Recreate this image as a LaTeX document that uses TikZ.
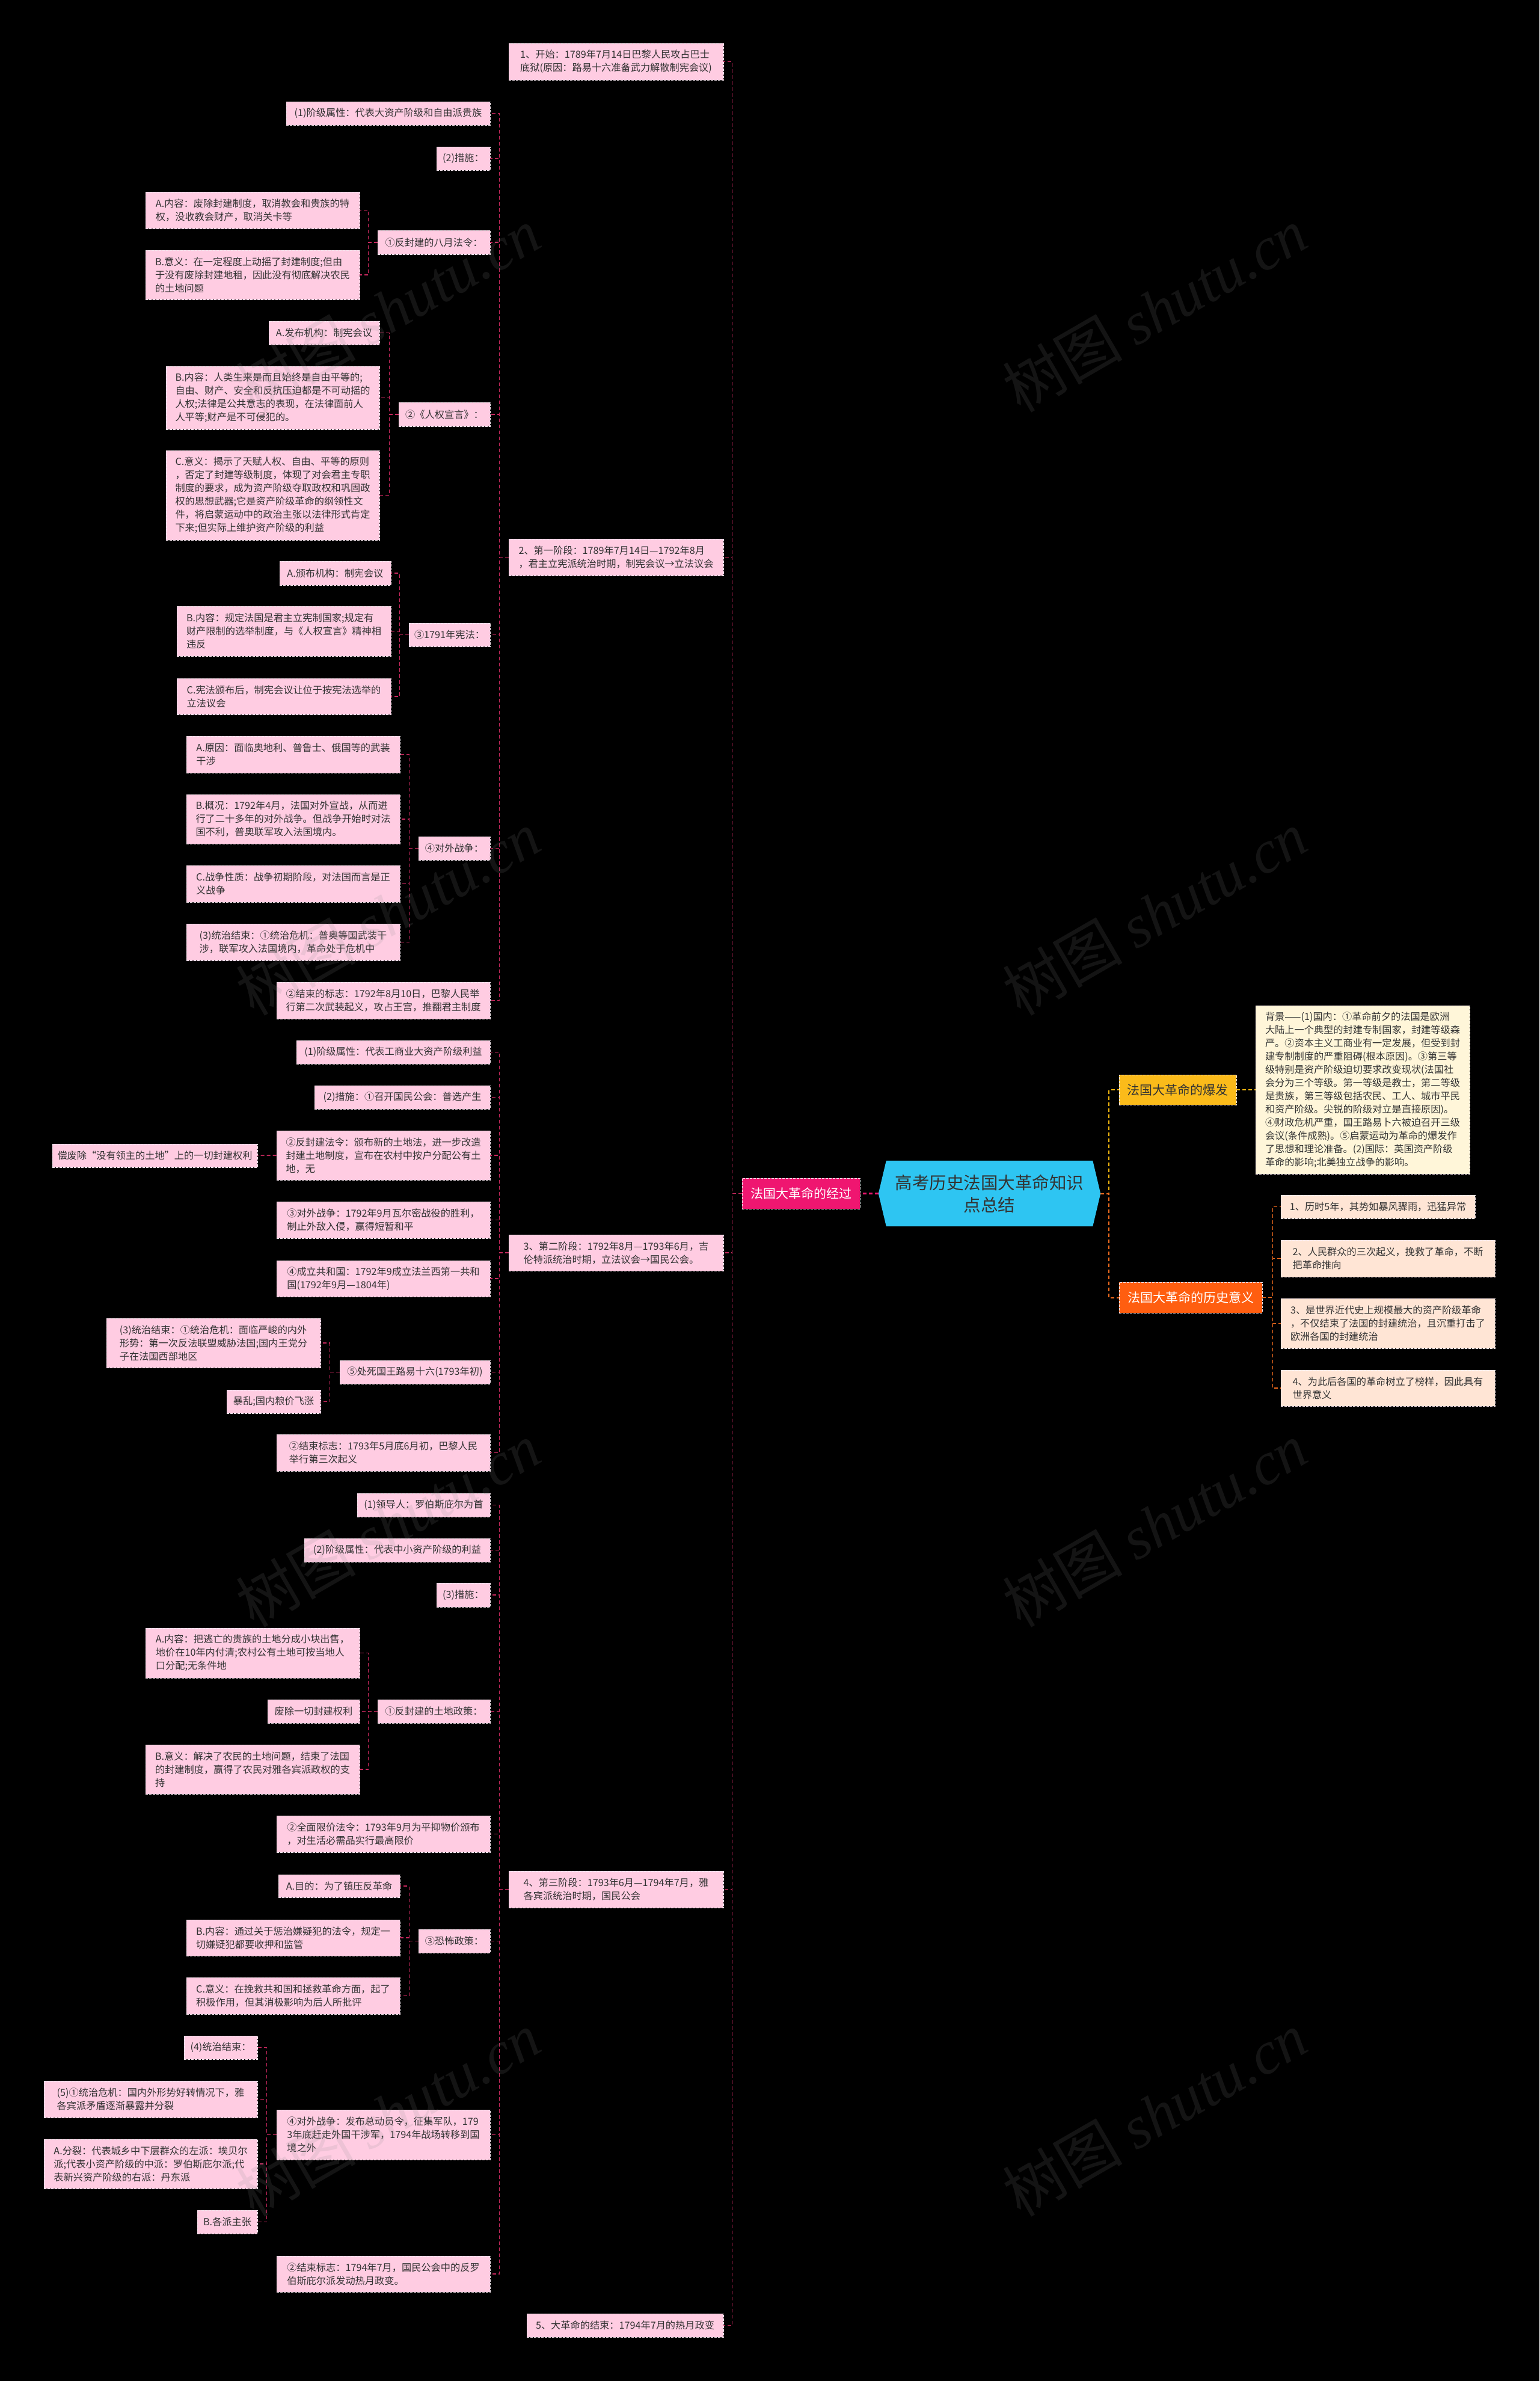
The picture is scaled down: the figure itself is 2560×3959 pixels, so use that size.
\documentclass[tikz,border=0pt]{standalone}
\usepackage{fontspec}
\setmainfont{Noto Sans CJK SC}
\newfontfamily\wmserif{Liberation Serif}
\pgfdeclarelayer{bottom}
\pgfdeclarelayer{behind}
\pgfsetlayers{bottom,behind,main}
\definecolor{pinkbox}{HTML}{FFCCE2}
\definecolor{boxedge}{HTML}{F4E4EC}
\definecolor{textdark}{HTML}{333333}
\definecolor{connred}{HTML}{C8285E}
\definecolor{rootcyan}{HTML}{2EC5F2}
\definecolor{jgpink}{HTML}{EF1670}
\definecolor{bfyellow}{HTML}{FBBB1A}
\definecolor{yyorange}{HTML}{FF5E10}
\definecolor{bgcream}{HTML}{FFF6D9}
\definecolor{peach}{HTML}{FFE5D5}
\definecolor{lnyellow}{HTML}{F5B80F}
\definecolor{lnorange}{HTML}{F26C1E}
\tikzset{
  base/.style={align=left, text=textdark, font=\fontsize{16.2}{22}\selectfont, inner xsep=5pt, inner ysep=3pt, line width=0.8pt, dash pattern=on 4pt off 2pt},
  pbox/.style={base, fill=pinkbox, draw=boxedge},
  cbox/.style={base, fill=bgcream, draw=boxedge},
  qbox/.style={base, fill=peach, draw=boxedge},
  topic/.style={align=center, font=\fontsize{21}{26}\selectfont, inner sep=4pt, draw=boxedge, line width=0.8pt, dash pattern=on 4pt off 2pt},
  conn/.style={draw=connred, line width=1.5pt, dash pattern=on 6pt off 4pt},
  wm/.style={text=black!45, opacity=0.15, rotate=30, font=\fontsize{100}{100}\selectfont, inner sep=0pt},
}
\newcommand{\mybox}[7][pbox]{\node[#1, minimum width={#4-#2}, minimum height={#5-#3}] (#6) at ({(#2+#4)/2},{(#3+#5)/2}) {#7};}
\begin{document}
\begin{tikzpicture}[x=1pt,y=-1pt]
\begin{pgfonlayer}{bottom}
\fill[black] (0,0) rectangle (2560,3959);
\end{pgfonlayer}
\useasboundingbox (0,0) rectangle (2560,3959);

% root
\node[align=center, text=textdark, font=\fontsize{28.5}{37}\selectfont, minimum width=369, minimum height=109, inner sep=0pt] (root) at (1645.5,1984.5) {高考历史法国大革命知识\\点总结};
\begin{pgfonlayer}{behind}
\fill[rootcyan] ([xshift=13pt]root.north west) -- ([xshift=-13pt]root.north east) -- (root.east) -- ([xshift=-13pt]root.south east) -- ([xshift=13pt]root.south west) -- (root.west) -- cycle;
\end{pgfonlayer}

% main topics
\mybox[topic, fill=jgpink, text=white]{1234}{1959}{1430}{2010}{jingguo}{法国大革命的经过}
\mybox[topic, fill=bfyellow, text=textdark]{1861}{1787}{2056}{1837}{baofa}{法国大革命的爆发}
\mybox[topic, fill=yyorange, text=white]{1861}{2132}{2099}{2183}{yiyi}{法国大革命的历史意义}

% right side
\mybox[cbox]{2088}{1672}{2444}{1952}{bg}{背景——(1)国内：①革命前夕的法国是欧洲\\大陆上一个典型的封建专制国家，封建等级森\\严。②资本主义工商业有一定发展，但受到封\\建专制制度的严重阻碍(根本原因)。③第三等\\级特别是资产阶级迫切要求改变现状(法国社\\会分为三个等级。第一等级是教士，第二等级\\是贵族，第三等级包括农民、工人、城市平民\\和资产阶级。尖锐的阶级对立是直接原因)。\\④财政危机严重，国王路易卜六被迫召开三级\\会议(条件成熟)。⑤启蒙运动为革命的爆发作\\了思想和理论准备。(2)国际：英国资产阶级\\革命的影响;北美独立战争的影响。}
\mybox[qbox]{2130}{1987}{2453}{2026}{s1}{1、历时5年，其势如暴风骤雨，迅猛异常}
\mybox[qbox]{2130}{2062}{2486}{2123}{s2}{2、人民群众的三次起义，挽救了革命，不断\\把革命推向}
\mybox[qbox]{2130}{2159}{2486}{2242}{s3}{3、是世界近代史上规模最大的资产阶级革命\\，不仅结束了法国的封建统治，且沉重打击了\\欧洲各国的封建统治}
\mybox[qbox]{2130}{2278}{2486}{2338}{s4}{4、为此后各国的革命树立了榜样，因此具有\\世界意义}

% level 1
\mybox{846}{72}{1203}{133}{n1}{1、开始：1789年7月14日巴黎人民攻占巴士\\底狱(原因：路易十六准备武力解散制宪会议)}
\mybox{846}{896}{1203}{957}{n2}{2、第一阶段：1789年7月14日—1792年8月\\，君主立宪派统治时期，制宪会议→立法议会}
\mybox{846}{2053}{1203}{2113}{n3}{3、第二阶段：1792年8月—1793年6月，吉\\伦特派统治时期，立法议会→国民公会。}
\mybox{846}{3111}{1203}{3172}{n4}{4、第三阶段：1793年6月—1794年7月，雅\\各宾派统治时期，国民公会}
\mybox{876}{3847}{1203}{3886}{n5}{5、大革命的结束：1794年7月的热月政变}

% stage 1
\mybox{476}{169}{815}{208}{a1}{(1)阶级属性：代表大资产阶级和自由派贵族}
\mybox{726}{244}{815}{283}{a2}{(2)措施：}
\mybox{628}{383}{815}{423}{a3}{①反封建的八月法令：}
\mybox{242}{319}{598}{380}{a3a}{A.内容：废除封建制度，取消教会和贵族的特\\权，没收教会财产，取消关卡等}
\mybox{242}{416}{598}{498}{a3b}{B.意义：在一定程度上动摇了封建制度;但由\\于没有废除封建地租，因此没有彻底解决农民\\的土地问题}
\mybox{663}{669}{815}{709}{a4}{②《人权宣言》：}
\mybox{447}{534}{631}{573}{a4a}{A.发布机构：制宪会议}
\mybox{276}{609}{631}{714}{a4b}{B.内容：人类生来是而且始终是自由平等的;\\自由、财产、安全和反抗压迫都是不可动摇的\\人权;法律是公共意志的表现，在法律面前人\\人平等;财产是不可侵犯的。}
\mybox{276}{749}{631}{898}{a4c}{C.意义：揭示了天赋人权、自由、平等的原则\\，否定了封建等级制度，体现了对会君主专职\\制度的要求，成为资产阶级夺取政权和巩固政\\权的思想武器;它是资产阶级革命的纲领性文\\件，将启蒙运动中的政治主张以法律形式肯定\\下来;但实际上维护资产阶级的利益}
\mybox{680}{1036}{815}{1075}{a5}{③1791年宪法：}
\mybox{465}{933}{650}{973}{a5a}{A.颁布机构：制宪会议}
\mybox{294}{1008}{650}{1091}{a5b}{B.内容：规定法国是君主立宪制国家;规定有\\财产限制的选举制度，与《人权宣言》精神相\\违反}
\mybox{294}{1128}{650}{1188}{a5c}{C.宪法颁布后，制宪会议让位于按宪法选举的\\立法议会}
\mybox{696}{1391}{815}{1430}{a6}{④对外战争：}
\mybox{310}{1224}{665}{1285}{a6a}{A.原因：面临奥地利、普鲁士、俄国等的武装\\干涉}
\mybox{310}{1321}{665}{1403}{a6b}{B.概况：1792年4月，法国对外宣战，从而进\\行了二十多年的对外战争。但战争开始时对法\\国不利，普奥联军攻入法国境内。}
\mybox{310}{1439}{665}{1500}{a6c}{C.战争性质：战争初期阶段，对法国而言是正\\义战争}
\mybox{310}{1536}{665}{1597}{a6d}{(3)统治结束：①统治危机：普奥等国武装干\\涉，联军攻入法国境内，革命处于危机中}
\mybox{460}{1633}{815}{1694}{a7}{②结束的标志：1792年8月10日，巴黎人民举\\行第二次武装起义，攻占王宫，推翻君主制度}

% stage 2
\mybox{493}{1730}{815}{1769}{b1}{(1)阶级属性：代表工商业大资产阶级利益}
\mybox{523}{1805}{815}{1844}{b2}{(2)措施：①召开国民公会：普选产生}
\mybox{460}{1880}{815}{1962}{b3}{②反封建法令：颁布新的土地法，进一步改造\\封建土地制度，宣布在农村中按户分配公有土\\地，无}
\mybox{87}{1902}{428}{1941}{b3a}{偿废除“没有领主的土地”上的一切封建权利}
\mybox{460}{1998}{815}{2059}{b4}{③对外战争：1792年9月瓦尔密战役的胜利，\\制止外敌入侵，赢得短暂和平}
\mybox{460}{2096}{815}{2156}{b5}{④成立共和国：1792年9成立法兰西第一共和\\国(1792年9月—1804年)}
\mybox{565}{2262}{815}{2301}{b6}{⑤处死国王路易十六(1793年初)}
\mybox{177}{2192}{533}{2274}{b6a}{(3)统治结束：①统治危机：面临严峻的内外\\形势：第一次反法联盟威胁法国;国内王党分\\子在法国西部地区}
\mybox{377}{2311}{533}{2350}{b6b}{暴乱;国内粮价飞涨}
\mybox{460}{2385}{815}{2446}{b7}{②结束标志：1793年5月底6月初，巴黎人民\\举行第三次起义}

% stage 3
\mybox{594}{2483}{815}{2522}{c1}{(1)领导人：罗伯斯庇尔为首}
\mybox{506}{2558}{815}{2597}{c2}{(2)阶级属性：代表中小资产阶级的利益}
\mybox{726}{2632}{815}{2672}{c3}{(3)措施：}
\mybox{628}{2826}{815}{2865}{c4}{①反封建的土地政策：}
\mybox{242}{2707}{598}{2790}{c4a}{A.内容：把逃亡的贵族的土地分成小块出售，\\地价在10年内付清;农村公有土地可按当地人\\口分配;无条件地}
\mybox{445}{2826}{598}{2865}{c4b}{废除一切封建权利}
\mybox{242}{2901}{598}{2983}{c4c}{B.意义：解决了农民的土地问题，结束了法国\\的封建制度，赢得了农民对雅各宾派政权的支\\持}
\mybox{460}{3019}{815}{3080}{c5}{②全面限价法令：1793年9月为平抑物价颁布\\，对生活必需品实行最高限价}
\mybox{696}{3208}{815}{3247}{c6}{③恐怖政策：}
\mybox{463}{3117}{665}{3155}{c6a}{A.目的：为了镇压反革命}
\mybox{310}{3192}{665}{3252}{c6b}{B.内容：通过关于惩治嫌疑犯的法令，规定一\\切嫌疑犯都要收押和监管}
\mybox{310}{3288}{665}{3349}{c6c}{C.意义：在挽救共和国和拯救革命方面，起了\\积极作用，但其消极影响为后人所批评}
\mybox{460}{3508}{815}{3591}{c7}{④对外战争：发布总动员令，征集军队，179\\3年底赶走外国干涉军，1794年战场转移到国\\境之外}
\mybox{306}{3385}{428}{3424}{c7a}{(4)统治结束：}
\mybox{73}{3460}{428}{3521}{c7b}{(5)①统治危机：国内外形势好转情况下，雅\\各宾派矛盾逐渐暴露并分裂}
\mybox{73}{3557}{428}{3639}{c7c}{A.分裂：代表城乡中下层群众的左派：埃贝尔\\派;代表小资产阶级的中派：罗伯斯庇尔派;代\\表新兴资产阶级的右派：丹东派}
\mybox{328}{3675}{428}{3714}{c7d}{B.各派主张}
\mybox{460}{3751}{815}{3811}{c8}{②结束标志：1794年7月，国民公会中的反罗\\伯斯庇尔派发动热月政变。}

% connectors right
\draw[conn, draw=jgpink, line width=3pt] (root.west) -- (jingguo.east);
\draw[conn, draw=lnyellow, line width=2pt] (root.east) -- ++(14,0) |- (baofa.west);
\draw[conn, draw=lnorange, line width=2pt] (root.east) -- ++(14,0) |- (yiyi.west);
\draw[conn, draw=lnyellow] (baofa.east) -- (bg.west);
\foreach \c in {s1,s2,s3,s4} \draw[conn, draw=lnorange] (yiyi.east) -- ++(17,0) |- (\c.west);

% connectors left
\foreach \c in {n1,n2,n3,n4,n5} \draw[conn] (jingguo.west) -- ++(-16,0) |- (\c.east);
\foreach \c in {a1,a2,a3,a4,a5,a6,a7} \draw[conn] (n2.west) -- ++(-15,0) |- (\c.east);
\foreach \c in {a3a,a3b} \draw[conn] (a3.west) -- ++(-15,0) |- (\c.east);
\foreach \c in {a4a,a4b,a4c} \draw[conn] (a4.west) -- ++(-15,0) |- (\c.east);
\foreach \c in {a5a,a5b,a5c} \draw[conn] (a5.west) -- ++(-15,0) |- (\c.east);
\foreach \c in {a6a,a6b,a6c,a6d} \draw[conn] (a6.west) -- ++(-15,0) |- (\c.east);
\foreach \c in {b1,b2,b3,b4,b5,b6,b7} \draw[conn] (n3.west) -- ++(-15,0) |- (\c.east);
\draw[conn] (b3.west) -- (b3a.east);
\foreach \c in {b6a,b6b} \draw[conn] (b6.west) -- ++(-16,0) |- (\c.east);
\foreach \c in {c1,c2,c3,c4,c5,c6,c7,c8} \draw[conn] (n4.west) -- ++(-15,0) |- (\c.east);
\foreach \c in {c4a,c4b,c4c} \draw[conn] (c4.west) -- ++(-15,0) |- (\c.east);
\foreach \c in {c6a,c6b,c6c} \draw[conn] (c6.west) -- ++(-15,0) |- (\c.east);
\foreach \c in {c7a,c7b,c7c,c7d} \draw[conn] (c7.west) -- ++(-16,0) |- (\c.east);

% watermarks
\foreach \wx/\wy/\k in {645/515/1,1920/515/2,645/1518/3,1920/1518/4,645/2535/5,1920/2535/6,645/3515/7,1920/3515/8}
  \node[wm] (wm\k) at (\wx,\wy) {树图 {\wmserif\itshape shutu.cn}};
\end{tikzpicture}
\end{document}
